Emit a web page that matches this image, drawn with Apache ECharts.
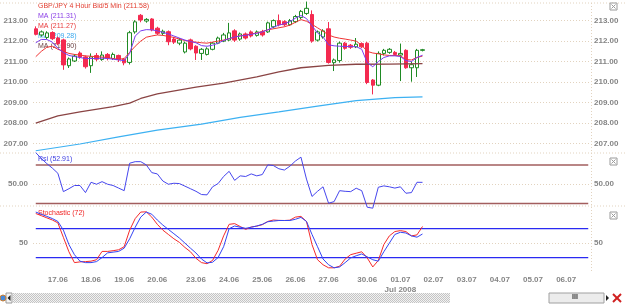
<!DOCTYPE html>
<html>
<head>
<meta charset="utf-8">
<script src="https://cdn.jsdelivr.net/npm/echarts@6/dist/echarts.min.js"></script>
<style>
  html, body { margin: 0; padding: 0; background: #ffffff; }
  #chart { width: 625px; height: 304px; }
</style>
</head>
<body>
<div id="chart"></div>
<script>
// ---------- data ----------
var dayLabels = ['17.06', '18.06', '19.06', '20.06', '23.06', '24.06', '25.06', '26.06',
  '27.06', '30.06', '01.07', '02.07', '03.07', '04.07', '05.07', '06.07'];
var dayStartSlot = [4, 10, 16, 22, 29, 35, 41, 47, 53, 60, 66, 72, 78, 84, 90, 96];
var slotCount = 101;

var open = [212.60, 212.30, 212.18, 212.42, 212.15, 212.06, 210.80, 211.03, 211.42, 211.23,
  210.80, 211.30, 211.10, 211.35, 211.15, 211.30, 211.12, 210.96, 212.45, 213.26,
  212.98, 213.08, 212.63, 212.38, 212.46, 212.10, 211.90, 211.47, 212.06, 211.75,
  211.40, 211.35, 211.60, 211.90, 212.00, 212.05, 212.50, 212.10, 212.35, 212.45,
  212.28, 212.45, 212.45, 212.70, 213.00, 212.95, 212.80, 212.95, 213.15, 213.35,
  213.30, 212.05, 212.20, 212.60, 210.95, 211.05, 211.90, 211.80, 211.72, 211.88,
  211.90, 210.10, 209.85, 211.40, 211.45, 211.45, 211.32, 211.55, 210.70, 210.70, 211.55];
var close = [212.33, 212.45, 212.40, 212.12, 211.88, 210.84, 211.13, 211.27, 211.22, 210.75,
  211.23, 211.12, 211.32, 211.17, 211.35, 211.10, 210.94, 212.41, 212.94, 213.03,
  213.06, 212.55, 212.38, 212.48, 211.97, 211.95, 212.05, 211.90, 211.62, 211.42,
  211.60, 211.62, 211.90, 212.15, 212.30, 212.40, 212.05, 212.35, 212.15, 212.25,
  212.45, 212.30, 212.89, 213.00, 212.80, 212.80, 213.00, 213.20, 213.45, 213.60,
  212.00, 212.45, 212.50, 210.96, 211.08, 211.90, 211.65, 211.70, 211.85, 211.72,
  209.98, 209.85, 211.40, 211.55, 211.60, 211.35, 211.40, 210.70, 210.85, 211.55, 211.58];
var low = [212.28, 212.22, 212.10, 212.05, 211.80, 210.60, 210.69, 210.98, 211.14, 210.66,
  210.45, 211.02, 211.04, 211.06, 211.08, 210.98, 210.82, 210.86, 212.36, 212.92,
  212.90, 212.48, 212.30, 212.28, 211.80, 211.86, 211.80, 211.40, 211.55, 211.08,
  211.08, 211.30, 211.55, 211.85, 211.95, 212.00, 211.96, 212.02, 212.08, 212.18,
  212.22, 212.22, 212.40, 212.62, 212.72, 212.72, 212.74, 212.88, 213.08, 213.28,
  211.92, 211.98, 212.12, 210.90, 210.54, 210.95, 211.58, 211.62, 211.66, 211.66,
  209.90, 209.40, 209.80, 211.30, 211.38, 211.28, 210.05, 210.65, 210.02, 210.25, 211.50];
var high = [212.72, 212.52, 212.48, 212.48, 212.22, 212.12, 211.20, 211.36, 211.50, 211.30,
  211.40, 211.42, 211.50, 211.42, 211.44, 211.34, 211.18, 212.50, 213.02, 213.32,
  213.12, 213.12, 212.70, 212.56, 212.52, 212.20, 212.15, 211.98, 212.12, 211.80,
  211.66, 211.70, 211.96, 212.22, 212.40, 212.89, 212.58, 212.42, 212.42, 212.52,
  212.52, 212.55, 212.95, 213.06, 213.30, 213.02, 213.08, 213.28, 213.52, 213.93,
  213.50, 212.52, 212.58, 212.93, 211.15, 211.98, 211.96, 211.86, 212.15, 211.94,
  211.96, 210.15, 211.50, 211.62, 211.66, 211.52, 211.88, 211.60, 211.00, 211.62, 211.62];

var maFast = [211.92, 212.08, 212.08, 211.95, 211.65, 211.45, 211.30, 211.25, 211.20, 211.15,
  211.15, 211.15, 211.17, 211.15, 211.12, 211.08, 211.05, 211.40, 212.25, 212.50,
  212.56, 212.55, 212.50, 212.43, 212.35, 212.25, 212.15, 212.05, 211.98, 211.92,
  211.78, 211.75, 211.80, 211.90, 212.03, 212.12, 212.20, 212.25, 212.28, 212.33,
  212.38, 212.45, 212.55, 212.68, 212.78, 212.85, 212.95, 213.12, 213.25, 213.10,
  212.75, 212.40, 212.20, 211.82, 211.77, 211.75, 211.74, 211.73, 211.73, 211.60,
  210.95, 210.75, 211.00, 211.20, 211.28, 211.28, 211.25, 211.05, 211.00, 211.20, 211.31];
var maMid = [211.24, 211.50, 211.70, 211.75, 211.60, 211.50, 211.40, 211.35, 211.32, 211.28,
  211.26, 211.24, 211.22, 211.20, 211.15, 211.11, 211.15, 211.45, 211.75, 212.00,
  212.19, 212.25, 212.30, 212.28, 212.23, 212.18, 212.10, 212.03, 211.98, 211.95,
  211.92, 211.90, 211.95, 212.00, 212.05, 212.12, 212.20, 212.26, 212.30, 212.35,
  212.40, 212.47, 212.55, 212.60, 212.65, 212.70, 212.78, 212.92, 213.05, 212.97,
  212.82, 212.65, 212.48, 212.30, 212.20, 212.14, 212.10, 212.05, 212.00, 211.80,
  211.50, 211.42, 211.38, 211.33, 211.30, 211.30, 211.28, 211.10, 211.08, 211.20, 211.27];
// slow averages, read as [slot, value]
var maLong = [[0, 208.00], [4, 208.35], [8, 208.55], [14, 208.80], [17, 208.97], [19, 209.20],
  [22, 209.42], [29, 209.75], [34, 209.95], [40, 210.25], [44, 210.50], [48, 210.70],
  [53, 210.82], [58, 210.87], [64, 210.88], [70, 210.90]];
var maLonger = [[0, 206.65], [8, 206.98], [15, 207.33], [22, 207.66], [30, 207.95], [37, 208.28],
  [44, 208.55], [51, 208.83], [58, 209.10], [65, 209.24], [70, 209.28]];

var rsi = [99, 90, 82, 75, 67, 38.5, 43, 48, 48, 37,
  53, 50, 54, 50, 48, 44, 40, 82.6, 85, 85,
  80, 68, 66, 55, 50, 51.5, 51, 47, 43, 39,
  34, 33.5, 46, 51, 62, 70, 56, 63, 62, 66,
  63, 65, 80, 79, 74, 72, 78, 86, 92, 58,
  31, 39, 46, 20.5, 23, 40, 39, 38.5, 43.8, 40,
  14.3, 12.8, 45.3, 47.4, 46, 44, 46, 36, 37, 53, 52.9];
var stochK = [91, 88, 85, 82, 78, 58, 38, 23, 24, 24.4,
  25, 27, 38.5, 38.5, 39.5, 40.8, 45, 68, 84, 93,
  93.3, 86, 76, 68, 62, 56, 51, 44, 38, 29,
  23, 21.5, 26, 40, 60, 76, 77, 73, 69, 72.3,
  73.5, 75.5, 80, 82, 81.5, 81.3, 81.8, 86, 87, 80,
  48, 27, 20, 15.8, 15.8, 18, 28, 34, 36, 38,
  29.5, 17, 26, 48, 60, 66, 67.3, 66, 60, 61.4, 73];
var stochD = [93, 90, 87, 84, 80, 68, 48, 34, 25, 23,
  23, 24.4, 30, 36.5, 37.5, 38.5, 43, 56, 72, 86,
  93, 90, 82, 75, 69, 63, 57, 50, 43, 36.3,
  28, 22.6, 23.5, 30, 45, 70, 73.7, 72, 70.5, 72,
  73.7, 76, 79.6, 80.5, 81.3, 81.3, 81.3, 83, 85.6, 80,
  62, 45, 28, 20, 15.8, 17, 23, 29.5, 32.5, 35,
  31, 27, 25, 38, 50, 62, 65, 64, 60, 58.2, 62.6];

var priceTicks = [207, 208, 209, 210, 211, 212, 213];
var rsiLevels = [80, 20];
var stochLevels = [70, 30];
var midTick = [50];

var legendLines = [
  { text: 'GBP/JPY 4 Hour Bid/5 Min (211.58)', color: '#e23a2c' },
  { text: 'MA (211.31)', color: '#8a3ee6' },
  { text: 'MA (211.27)', color: '#e83c3c' },
  { text: 'MA (209.28)', color: '#3aa9ee' },
  { text: 'MA (210.90)', color: '#6a4040' }
];

// ---------- build ----------
var categories = [];
for (var i = 0; i < slotCount; i++) {
  var k = dayStartSlot.indexOf(i);
  categories.push(k >= 0 ? dayLabels[k] : 's' + i);
}
var candles = open.map(function (o, i) { return [o, close[i], low[i], high[i]]; });

var dotted = { color: '#e2d3bf', type: [1, 2], width: 1 };
var axisFont = { color: '#858585', fontSize: 8, fontWeight: 'bold', fontFamily: 'Liberation Sans' };

function xAxisFor(gi, showLabels) {
  return {
    type: 'category', gridIndex: gi, data: categories, boundaryGap: true,
    axisLine: { show: false, onZero: false }, axisTick: { show: false },
    splitLine: { show: false },
    axisLabel: showLabels ? {
      show: true, margin: 3, color: '#858585', fontSize: 8, fontWeight: 'bold',
      fontFamily: 'Liberation Sans', lineHeight: 10,
      interval: function (idx) { return dayStartSlot.indexOf(idx) >= 0; },
      formatter: function (v) { return v === '01.07' ? '01.07\nJul 2008' : v; }
    } : { show: false }
  };
}
function yAxisFor(gi, pos, min, max, ticks, fmt, split) {
  return {
    type: 'value', gridIndex: gi, position: pos, min: min, max: max, scale: true,
    axisLine: { show: false },
    axisTick: { show: false, customValues: ticks },
    axisLabel: Object.assign({ customValues: ticks, margin: pos === 'left' ? 5 : 3,
      formatter: fmt }, axisFont),
    splitLine: { show: split, lineStyle: dotted }
  };
}
function fix2(v) { return v.toFixed(2); }
function plain(v) { return String(v); }

// horizontal level lines as two-point line series spanning the whole category range
function levelSeries(xi, yi, levels, color, width) {
  return levels.map(function (v) {
    return {
      type: 'line', xAxisIndex: xi, yAxisIndex: yi, silent: true, showSymbol: false,
      data: [[0, v], [slotCount - 1, v]], clip: false,
      lineStyle: { color: color, width: width }, z: 3
    };
  });
}

// checkered fill for the scroll track
var patternCanvas = document.createElement('canvas');
patternCanvas.width = 2; patternCanvas.height = 2;
var pctx = patternCanvas.getContext('2d');
pctx.fillStyle = '#f2f2f2'; pctx.fillRect(0, 0, 2, 2);
pctx.fillStyle = '#c4c4c4'; pctx.fillRect(0, 0, 1, 1); pctx.fillRect(1, 1, 1, 1);

var graphics = [];
legendLines.forEach(function (l, i) {
  graphics.push({ type: 'text', left: 38, top: 3 + i * 10,
    style: { text: l.text, fill: l.color, fontSize: 7, fontFamily: 'Liberation Sans' } });
});
graphics.push({ type: 'text', left: 38, top: 156,
  style: { text: 'Rsi (52.91)', fill: '#3c3ce0', fontSize: 7, fontFamily: 'Liberation Sans' } });
graphics.push({ type: 'text', left: 38, top: 210,
  style: { text: 'Stochastic (72)', fill: '#f02424', fontSize: 7, fontFamily: 'Liberation Sans' } });
// panel frames
[3, 153, 206].forEach(function (y) {
  graphics.push({ type: 'line', shape: { x1: 0, y1: y, x2: 625, y2: y }, silent: true,
    style: { stroke: '#e2d3bf', lineDash: [1, 2] } });
});
graphics.push({ type: 'line', shape: { x1: 591.5, y1: 3, x2: 591.5, y2: 272 }, silent: true,
  style: { stroke: '#e2d3bf', lineDash: [1, 2] } });
// close boxes
[2, 157, 211].forEach(function (y) {
  graphics.push({ type: 'group', left: 609, top: y, children: [
    { type: 'rect', shape: { x: 0, y: 0, width: 7, height: 7 }, style: { fill: '#fff', stroke: '#9a9a9a' } },
    { type: 'line', shape: { x1: 1.5, y1: 1.5, x2: 5.5, y2: 5.5 }, style: { stroke: '#9a9a9a' } },
    { type: 'line', shape: { x1: 5.5, y1: 1.5, x2: 1.5, y2: 5.5 }, style: { stroke: '#9a9a9a' } }
  ] });
});
// bottom scroll bar
graphics.push({ type: 'rect', shape: { x: 13, y: 293, width: 437, height: 10 },
  style: { fill: { image: patternCanvas, repeat: 'repeat' } }, silent: true });
graphics.push({ type: 'rect', shape: { x: 6, y: 293, width: 6, height: 10 },
  style: { fill: '#f4f4f4', stroke: '#9a9a9a' }, silent: true });
graphics.push({ type: 'polygon', shape: { points: [[10.5, 295], [10.5, 301], [7.5, 298]] },
  style: { fill: '#222' }, silent: true });
graphics.push({ type: 'circle', shape: { cx: 3, cy: 298, r: 3 },
  style: { fill: '#4a8ad8', stroke: '#d08030' }, silent: true });
graphics.push({ type: 'rect', shape: { x: 549, y: 293, width: 55, height: 10 },
  style: { fill: '#ececec', stroke: '#a0a0a0' }, silent: true });
graphics.push({ type: 'text', x: 572, y: 294,
  style: { text: 'III', fill: '#333', fontSize: 7, fontWeight: 'bold' }, silent: true });
graphics.push({ type: 'polygon', shape: { points: [[606, 295], [606, 301], [609, 298]] },
  style: { fill: '#222' }, silent: true });
graphics.push({ type: 'line', shape: { x1: 613, y1: 294, x2: 621, y2: 302 },
  style: { stroke: '#d02020', lineWidth: 2 }, silent: true });
graphics.push({ type: 'line', shape: { x1: 621, y1: 294, x2: 613, y2: 302 },
  style: { stroke: '#d02020', lineWidth: 2 }, silent: true });

var series = [
  {
    type: 'candlestick', xAxisIndex: 0, yAxisIndex: 0, data: candles, barWidth: 4, clip: false,
    itemStyle: { color: '#ffffff', color0: '#f42a50', borderColor: '#1f8a24', borderColor0: '#f42a50', borderWidth: 1 }
  },
  { type: 'line', xAxisIndex: 0, yAxisIndex: 0, data: maLonger, showSymbol: false, clip: false,
    lineStyle: { color: '#3db1f2', width: 1.2 } },
  { type: 'line', xAxisIndex: 0, yAxisIndex: 0, data: maLong, showSymbol: false, clip: false,
    lineStyle: { color: '#8a4444', width: 1.3 } },
  { type: 'line', xAxisIndex: 0, yAxisIndex: 0, data: maMid, showSymbol: false, clip: false,
    lineStyle: { color: '#f03434', width: 1 } },
  { type: 'line', xAxisIndex: 0, yAxisIndex: 0, data: maFast, showSymbol: false, clip: false,
    lineStyle: { color: '#7a3cf0', width: 1 } }
]
  .concat(levelSeries(1, 2, rsiLevels, '#a25e5e', 1.5))
  .concat(levelSeries(2, 4, stochLevels, '#2a2af2', 1.2))
  .concat([
    { type: 'line', xAxisIndex: 1, yAxisIndex: 2, data: rsi, showSymbol: false, clip: false,
      lineStyle: { color: '#4646ee', width: 1 } },
    { type: 'line', xAxisIndex: 2, yAxisIndex: 4, data: stochK, showSymbol: false, clip: false,
      lineStyle: { color: '#f52a2a', width: 1 } },
    { type: 'line', xAxisIndex: 2, yAxisIndex: 4, data: stochD, showSymbol: false, clip: false,
      lineStyle: { color: '#3444f4', width: 1 } }
  ]);

var option = {
  animation: false,
  backgroundColor: '#ffffff',
  grid: [
    { left: 33, right: 34, top: 3, height: 150 },
    { left: 33, right: 34, top: 152, height: 58 },
    { left: 33, right: 34, top: 207, height: 65 }
  ],
  xAxis: [xAxisFor(0, false), xAxisFor(1, false), xAxisFor(2, true)],
  yAxis: [
    yAxisFor(0, 'left', 206.54, 213.86, priceTicks, fix2, true),
    yAxisFor(0, 'right', 206.54, 213.86, priceTicks, fix2, false),
    yAxisFor(1, 'left', 10, 100, midTick, fix2, true),
    yAxisFor(1, 'right', 10, 100, midTick, fix2, false),
    yAxisFor(2, 'left', 10, 100, midTick, plain, true),
    yAxisFor(2, 'right', 10, 100, midTick, plain, false)
  ],
  series: series,
  graphic: graphics
};

var chart = echarts.init(document.getElementById('chart'), null, { renderer: 'canvas' });
chart.setOption(option);
</script>
</body>
</html>
